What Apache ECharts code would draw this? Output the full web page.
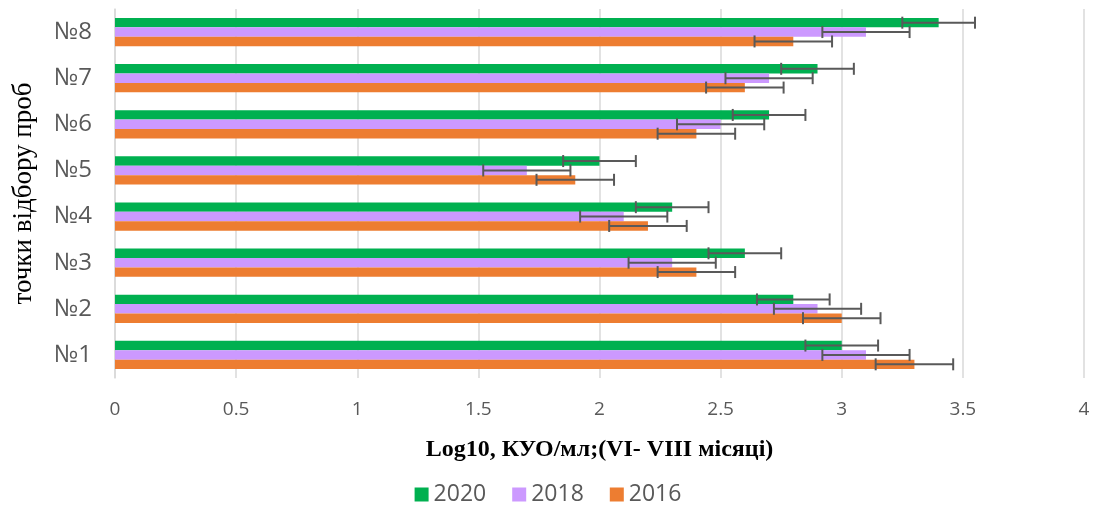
<!DOCTYPE html>
<html style="height: 100%;">
<head>
    <meta charset="UTF-8">
    <script src="https://cdn.jsdelivr.net/npm/echarts/dist/echarts.min.js"></script>
</head>
<body style="height: 100%; margin: 0; background: #fff;">
    <div id="chart" style="width: 1096px; height: 507px;"></div>

    <script type="text/javascript">
        // sampling points, bottom to top
        var points = ['№1', '№2', '№3', '№4', '№5', '№6', '№7', '№8'];

        // mean values (Log10 CFU/ml)
        var values2016 = [3.3, 3.0, 2.4, 2.2, 1.9, 2.4, 2.6, 2.8];
        var values2018 = [3.1, 2.9, 2.3, 2.1, 1.7, 2.5, 2.7, 3.1];
        var values2020 = [3.0, 2.8, 2.6, 2.3, 2.0, 2.7, 2.9, 3.4];

        // error bar half widths
        var err2016 = [0.16, 0.16, 0.16, 0.16, 0.16, 0.16, 0.16, 0.16];
        var err2018 = [0.18, 0.18, 0.18, 0.18, 0.18, 0.18, 0.18, 0.18];
        var err2020 = [0.15, 0.15, 0.15, 0.15, 0.15, 0.15, 0.15, 0.15];

        var catGap = 0.39;

        function errData(vals, errs) {
            return vals.map(function (v, i) { return [v - errs[i], v + errs[i], i]; });
        }

        // slot: 0 = bottom bar in group, 2 = top
        function errSeries(vals, errs, slot) {
            return {
                type: 'custom',
                data: errData(vals, errs),
                encode: { x: [0, 1], y: 2 },
                z: 10,
                silent: true,
                renderItem: function (params, api) {
                    var cat = api.value(2);
                    var lo = api.coord([api.value(0), cat]);
                    var hi = api.coord([api.value(1), cat]);
                    var band = api.size([0, 1])[1];
                    var barW = band * (1 - catGap) / 3;
                    var y = lo[1] + (1 - slot) * barW;
                    var cap = 6;
                    var style = { stroke: '#595959', lineWidth: 2 };
                    return {
                        type: 'group',
                        children: [
                            { type: 'line', shape: { x1: lo[0], y1: y, x2: hi[0], y2: y }, style: style },
                            { type: 'line', shape: { x1: lo[0], y1: y - cap, x2: lo[0], y2: y + cap }, style: style },
                            { type: 'line', shape: { x1: hi[0], y1: y - cap, x2: hi[0], y2: y + cap }, style: style }
                        ]
                    };
                }
            };
        }

        var chart = echarts.init(document.getElementById('chart'));

        var option = {
            animation: false,
            grid: { left: 115, right: 12, top: 9, bottom: 129, containLabel: false, outerBoundsMode: 'none' },
            legend: {
                data: ['2020', '2018', '2016'],
                bottom: -4,
                left: 'center',
                itemWidth: 14,
                itemHeight: 14,
                itemGap: 26,
                icon: 'rect',
                textStyle: { fontSize: 23, color: '#595959', fontFamily: 'Open Sans' }
            },
            xAxis: {
                type: 'value',
                min: 0,
                max: 4,
                interval: 0.5,
                name: 'Log10, КУО/мл;(VI- VIII місяці)',
                nameLocation: 'middle',
                nameGap: 60,
                nameTextStyle: { fontSize: 24, fontWeight: 'bold', color: '#000', fontFamily: 'Liberation Serif' },
                axisLine: { show: false },
                axisTick: { show: false },
                axisLabel: { fontSize: 19, color: '#595959', margin: 22, fontFamily: 'Open Sans' },
                splitLine: { lineStyle: { color: '#d9d9d9', width: 1.5 } }
            },
            yAxis: {
                type: 'category',
                data: points,
                name: 'точки відбору проб',
                nameLocation: 'middle',
                nameGap: 78,
                nameRotate: 90,
                nameTextStyle: { fontSize: 27, color: '#000', fontFamily: 'Liberation Serif' },
                axisLine: { show: true, lineStyle: { color: '#d9d9d9', width: 1.5 } },
                axisTick: { show: false },
                axisLabel: { fontSize: 24, color: '#595959', margin: 23, fontFamily: 'Open Sans' }
            },
            series: [
                {
                    name: '2020', type: 'bar', data: values2020,
                    barGap: 0, barCategoryGap: (catGap * 100) + '%',
                    itemStyle: { color: '#00b050' }
                },
                {
                    name: '2018', type: 'bar', data: values2018,
                    itemStyle: { color: '#cc99ff' }
                },
                {
                    name: '2016', type: 'bar', data: values2016,
                    itemStyle: { color: '#ed7d31' }
                },
                errSeries(values2016, err2016, 0),
                errSeries(values2018, err2018, 1),
                errSeries(values2020, err2020, 2)
            ]
        };

        chart.setOption(option);
        window.addEventListener('resize', chart.resize);
    </script>
</body>
</html>
